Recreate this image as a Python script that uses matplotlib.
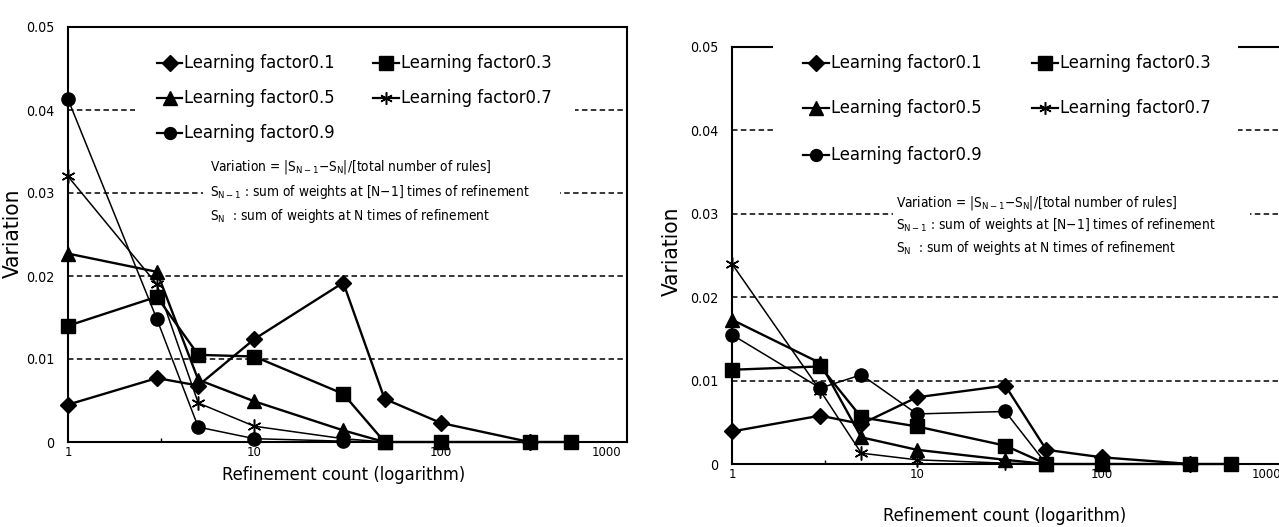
import matplotlib
matplotlib.use("Agg")
import matplotlib.pyplot as plt
from matplotlib import font_manager
from matplotlib.lines import Line2D
from matplotlib.patches import Rectangle

# ---------------- data ----------------
x_lf01 = [1, 3, 5, 10, 30, 50, 100, 300]
x_lf03 = [1, 3, 5, 10, 30, 50, 100, 300, 500]
x_short = [1, 3, 5, 10, 30, 50]

left_lf01 = [0.0045, 0.0077, 0.0068, 0.0124, 0.0192, 0.0052, 0.0023, 0.0]
left_lf03 = [0.0140, 0.0175, 0.0105, 0.0103, 0.0058, 0.0, 0.0, 0.0, 0.0]
left_lf05 = [0.0227, 0.0205, 0.0075, 0.0049, 0.0014, 0.0]
left_lf07 = [0.0320, 0.0190, 0.0047, 0.0019, 0.0004, 0.0]
left_lf09 = [0.0413, 0.0148, 0.0018, 0.0004, 0.0001, 0.0]

right_lf01 = [0.0039, 0.0058, 0.0048, 0.0080, 0.0094, 0.0017, 0.0008, 0.0]
right_lf03 = [0.0113, 0.0117, 0.0056, 0.0045, 0.0022, 0.0, 0.0, 0.0, 0.0]
right_lf05 = [0.0173, 0.0121, 0.0032, 0.0017, 0.0005, 0.0]
right_lf07 = [0.0240, 0.0088, 0.0013, 0.0005, 0.0001, 0.0]
right_lf09 = [0.0155, 0.0091, 0.0107, 0.0060, 0.0063, 0.0]

series_names = ["Learning factor0.1", "Learning factor0.3", "Learning factor0.5",
                "Learning factor0.7", "Learning factor0.9"]
y_ticks = [0, 0.01, 0.02, 0.03, 0.04, 0.05]
y_ticklabels = ["0", "0.01", "0.02", "0.03", "0.04", "0.05"]
x_ticks = [1, 10, 100, 1000]
x_ticklabels = ["1", "10", "100", "1000"]
x_label = "Refinement count (logarithm)"
y_label = "Variation"
note_lines = [r"Variation = |$S_{N-1}$$-$$S_N$|/[total number of rules]",
              r"$S_{N-1}$ : sum of weights at [N$-$1] times of refinement",
              r"$S_N$  : sum of weights at N times of refinement"]

# ---------------- fonts ----------------
names = {f.name for f in font_manager.fontManager.ttflist}
cond = any(f.name == "DejaVu Sans" and f.stretch == "condensed"
           for f in font_manager.fontManager.ttflist)
if "Liberation Sans Narrow" in names:
    FAM, STRETCH, SCALE = "Liberation Sans Narrow", "normal", 1.0
elif cond:
    FAM, STRETCH, SCALE = "DejaVu Sans", "condensed", 0.85
else:
    FAM, STRETCH, SCALE = "Liberation Sans", "normal", 0.85
plt.rcParams["font.family"] = [FAM, "DejaVu Sans"]
plt.rcParams["font.stretch"] = STRETCH
plt.rcParams["mathtext.fontset"] = "custom"
plt.rcParams["mathtext.rm"] = FAM
plt.rcParams["mathtext.it"] = FAM
plt.rcParams["mathtext.bf"] = FAM

W, H = 1279, 527
fig = plt.figure(figsize=(W / 100, H / 100), dpi=100)


def fx(x):
    return x / W


def fy(y):
    return 1 - y / H


styles = [
    dict(marker="D", ms=8.5, lw=1.7),
    dict(marker="s", ms=10.5, lw=1.7),
    dict(marker="^", ms=10.5, lw=1.7),
    dict(marker=(6, 2, 0), ms=10.0, lw=1.1, mew=1.1),
    dict(marker="o", ms=9.5, lw=1.1),
]


def draw_panel(rect, xs_list, ys_list, right_spine=True):
    l, t, r, b = rect
    ax = fig.add_axes([fx(l), fy(b), fx(r) - fx(l), fy(t) - fy(b)])
    ax.set_xscale("log")
    ax.set_xlim(1, 1000)
    ax.set_ylim(0, 0.05)
    for v in y_ticks[1:-1]:
        ax.axhline(v, color="black", lw=1.1, ls=(0, (3.6, 2.2)), zorder=1)
    for xs, ys, st in zip(xs_list, ys_list, styles):
        ax.plot(xs, ys, color="black", mfc="black", mec="black",
                clip_on=False, zorder=3, **st)
    ax.set_yticks(y_ticks)
    ax.set_yticklabels(y_ticklabels, fontsize=12 * SCALE)
    ax.set_xticks(x_ticks)
    ax.set_xticklabels(x_ticklabels, fontsize=11 * SCALE)
    ax.set_xticks([10 ** 0.5, 10 ** 1.5, 10 ** 2.5], minor=True)
    ax.xaxis.set_minor_formatter(matplotlib.ticker.NullFormatter())
    ax.tick_params(axis="both", which="major", length=0)
    ax.tick_params(axis="y", which="major", pad=10)
    ax.tick_params(axis="x", which="minor", length=3, direction="in", width=1)
    ax.tick_params(axis="x", which="major", pad=3)
    for s in ax.spines.values():
        s.set_linewidth(1.5)
    ax.spines["right"].set_visible(right_spine)
    # keep the last x label inside the plotting area
    lab = ax.get_xticklabels()[-1]
    lab.set_horizontalalignment("right")
    lab.set_transform(lab.get_transform() +
                      matplotlib.transforms.ScaledTranslation(-6 / 100, 0, fig.dpi_scale_trans))
    return ax


axL = draw_panel((68, 27, 627, 442),
                 [x_lf01, x_lf03, x_short, x_short, x_short],
                 [left_lf01, left_lf03, left_lf05, left_lf07, left_lf09])
axR = draw_panel((732, 47, 1287, 464),
                 [x_lf01, x_lf03, x_short, x_short, x_short],
                 [right_lf01, right_lf03, right_lf05, right_lf07, right_lf09],
                 right_spine=False)

fig.text(fx(13), fy(233), y_label, rotation=90, ha="center", va="center",
         fontsize=19 * SCALE, zorder=2)
fig.text(fx(344), fy(475), x_label, ha="center", va="center", fontsize=15.5 * SCALE)
fig.text(fx(672), fy(251), y_label, rotation=90, ha="center", va="center",
         fontsize=19 * SCALE, zorder=2)
fig.text(fx(1005), fy(516), x_label, ha="center", va="center", fontsize=15.5 * SCALE)


def white_box(x0, y0, x1, y1):
    fig.add_artist(Rectangle((fx(x0), fy(y1)), fx(x1) - fx(x0), fy(y0) - fy(y1),
                             transform=fig.transFigure, facecolor="white",
                             edgecolor="none", zorder=5))


def legend_entry(hx0, hx1, y, idx):
    st = styles[idx]
    ms = st["ms"] * 0.9
    fig.add_artist(Line2D([fx(hx0), fx(hx1)], [fy(y), fy(y)], transform=fig.transFigure,
                          color="black", lw=1.6, zorder=6))
    fig.add_artist(Line2D([fx((hx0 + hx1) / 2)], [fy(y)], transform=fig.transFigure,
                          color="black", marker=st["marker"], ms=ms, mfc="black",
                          mec="black", mew=st.get("mew", 1.0), lw=0, zorder=6))
    fig.text(fx(hx1 + 2), fy(y), series_names[idx], ha="left", va="center",
             fontsize=15.5 * SCALE, zorder=7)


# left panel legend and note
white_box(135, 38, 575, 150)
for row, idx in enumerate([0, 2, 4]):
    legend_entry(157, 182, [63, 98, 133][row], idx)
for row, idx in enumerate([1, 3]):
    legend_entry(373, 399, [63, 98][row], idx)
white_box(203, 155, 560, 230)
for y, line in zip([167, 192, 216], note_lines):
    fig.text(fx(210), fy(y), line, ha="left", va="center", fontsize=11.5 * SCALE, zorder=7)

# right panel legend and note
white_box(773, 38, 1238, 172)
for row, idx in enumerate([0, 2, 4]):
    legend_entry(803, 829, [63, 108, 155][row], idx)
for row, idx in enumerate([1, 3]):
    legend_entry(1032, 1058, [63, 108][row], idx)
white_box(893, 190, 1250, 262)
for y, line in zip([203, 225, 248], note_lines):
    fig.text(fx(896), fy(y), line, ha="left", va="center", fontsize=11.5 * SCALE, zorder=7)

fig.savefig("out.png", dpi=100)
